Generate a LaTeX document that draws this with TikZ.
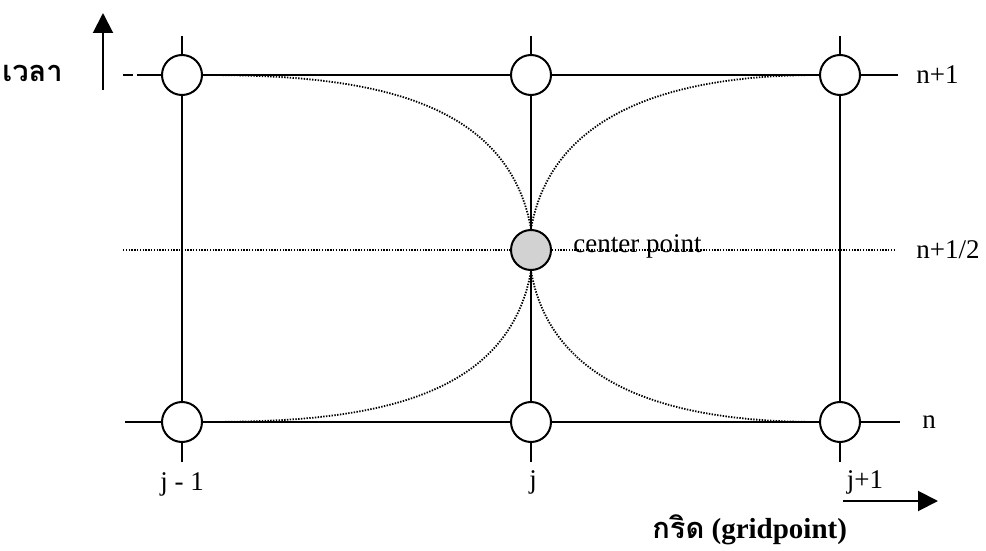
\documentclass[tikz,border=0pt]{standalone}
\usepackage{fontspec}
\setmainfont{Liberation Serif}
\newfontfamily\thaifont[Script=Thai]{Loma}
\usepackage{tikz}
\usetikzlibrary{arrows.meta}

\tikzset{
  gridpt/.style={draw, circle, line width=1pt, fill=white, minimum size=20pt, inner sep=0pt},
  centerpt/.style={gridpt, fill=gray!35},
  gridline/.style={line width=0.9pt},
  dotline/.style={line width=0.9pt, dash pattern=on 0.7pt off 0.7pt},
  axisarrow/.style={line width=1pt, -{Triangle[width=10pt,length=10pt]}},
  lbl/.style={font=\fontsize{13.5}{16}\selectfont, inner sep=0pt},
  axlbl/.style={font=\bfseries\fontsize{14.5}{17}\selectfont, inner sep=0pt},
}

\begin{document}
\begin{tikzpicture}[x=0.5pt,y=0.5pt]
\useasboundingbox (0,0) rectangle (986,-551);
% grid points
\node[gridpt] (tl) at (182,-75) {};
\node[gridpt] (tm) at (531,-75) {};
\node[gridpt] (tr) at (840,-75) {};
\node[centerpt] (c) at (531,-250) {};
\node[gridpt] (bl) at (182,-422) {};
\node[gridpt] (bm) at (531,-422) {};
\node[gridpt] (br) at (840,-422) {};
% free ends of the grid lines
\coordinate (tlw) at (123,-75);
\coordinate (tre) at (898,-75);
\coordinate (blw) at (125,-422);
\coordinate (bre) at (900,-422);
\coordinate (mw) at (123,-250);
\coordinate (me) at (895,-250);
\coordinate (ltop) at (182,-36);
\coordinate (lbot) at (182,-462);
\coordinate (mtop) at (531,-36);
\coordinate (mbot) at (531,-462);
\coordinate (rtop) at (840,-36);
\coordinate (rbot) at (840,-462);
% time level n+1
\draw[gridline, dash pattern=on 5pt off 2pt on 14pt] (tlw) -- (tl.west);
\draw[gridline] (tl.east) -- (tm.west) (tm.east) -- (tr.west) (tr.east) -- (tre);
% time level n
\draw[gridline] (blw) -- (bl.west) (bl.east) -- (bm.west) (bm.east) -- (br.west) (br.east) -- (bre);
% grid columns
\draw[gridline] (ltop) -- (tl.north) (tl.south) -- (bl.north) (bl.south) -- (lbot);
\draw[gridline] (mtop) -- (tm.north) (tm.south) -- (c.north) (c.south) -- (bm.north) (bm.south) -- (mbot);
\draw[gridline] (rtop) -- (tr.north) (tr.south) -- (br.north) (br.south) -- (rbot);
% half level
\draw[dotline] (mw) -- (c.west) (c.east) -- (me);
% curves into the center point
\draw[dotline] (tl.east) to[out=0,in=100] (c.north);
\draw[dotline] (tr.west) to[out=180,in=80] (c.north);
\draw[dotline] (bl.east) to[out=0,in=-100] (c.south);
\draw[dotline] (br.west) to[out=180,in=-80] (c.south);
% labels
\node[lbl, anchor=west] (cplbl) at (573,-246) {center point};
\node[lbl, anchor=west] (n1) at (916,-75) {n+1};
\node[lbl, anchor=west] (nhalf) at (916,-250) {n+1/2};
\node[lbl, anchor=west] (n0) at (922,-422) {n};
\node[lbl] (jm1) at (182,-484) {j - 1};
\node[lbl] (j0) at (533,-482) {j};
\node[lbl] (jp1) at (865,-482) {j+1};
% axes
\coordinate (tbot) at (103,-90);
\coordinate (ttop) at (103,-13);
\coordinate (gbeg) at (843,-501);
\coordinate (gend) at (938,-501);
\draw[axisarrow] (tbot) -- (ttop);
\draw[axisarrow] (gbeg) -- (gend);
\node[axlbl, anchor=east] (timelbl) at (63,-73) {\thaifont เวลา};
\node[axlbl, anchor=west] (gridlbl) at (652,-530) {{\thaifont กริด} (gridpoint)};
\end{tikzpicture}
\end{document}
